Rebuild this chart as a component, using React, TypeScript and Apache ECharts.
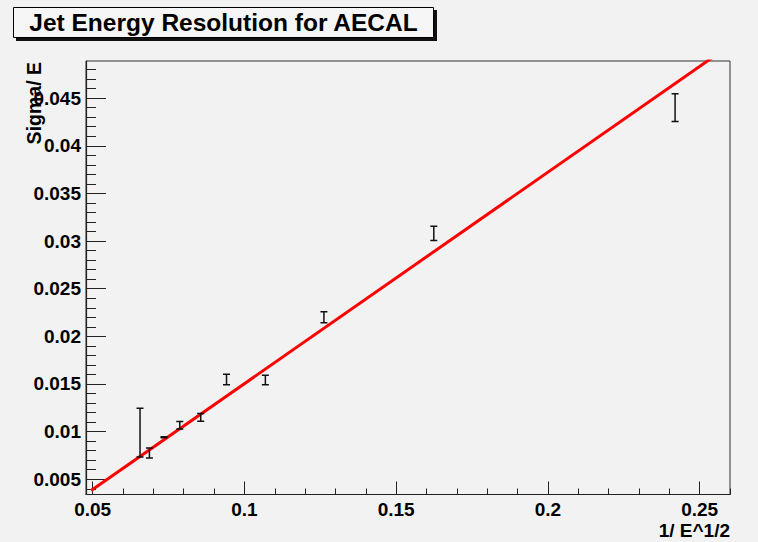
import React, { useEffect, useRef } from "react";
import * as echarts from "echarts";

// Measured points: 1/sqrt(E) vs sigma/E with their errors
const invSqrtE = [0.0656, 0.0687, 0.0735, 0.0787, 0.0856, 0.0941, 0.1069, 0.1262, 0.1624, 0.2419];
const sigmaOverE = [0.0099, 0.00776, 0.0094, 0.01067, 0.0115, 0.01547, 0.01542, 0.022, 0.0308, 0.044];
const sigmaErr = [0.00256, 0.00052, 0.00005, 0.0004, 0.0004, 0.00056, 0.0005, 0.00058, 0.00075, 0.00145];

// Straight-line fit, given by its two end points
const fitX = [0.0495, 0.26];
const fitY = [0.00382, 0.05055];

// Axis ranges and ticks
const xRange = [0.0478, 0.26];
const yRange = [0.0034, 0.0489];
const xMajor = [0.05, 0.1, 0.15, 0.2, 0.25];
const xMinor = [0.06, 0.07, 0.08, 0.09, 0.11, 0.12, 0.13, 0.14, 0.16, 0.17, 0.18, 0.19, 0.21, 0.22, 0.23, 0.24, 0.26];
const yMajor = [0.005, 0.01, 0.015, 0.02, 0.025, 0.03, 0.035, 0.04, 0.045];
const yMinor = [
  0.004, 0.006, 0.007, 0.008, 0.009, 0.011, 0.012, 0.013, 0.014, 0.016, 0.017, 0.018, 0.019,
  0.021, 0.022, 0.023, 0.024, 0.026, 0.027, 0.028, 0.029, 0.031, 0.032, 0.033, 0.034,
  0.036, 0.037, 0.038, 0.039, 0.041, 0.042, 0.043, 0.044, 0.046, 0.047, 0.048,
];

const BG = "#f2f2f2";
const FONT = "'Liberation Sans', Arial, Helvetica, sans-serif";
const AXIS_COLOR = "#222";

const fmt = (v: number) => String(+Number(v).toFixed(4));

const labelStyle = {
  color: "#000",
  fontWeight: "bold" as const,
  fontSize: 19,
  fontFamily: FONT,
};

export default function App() {
  const ref = useRef<HTMLDivElement>(null);

  useEffect(() => {
    document.body.style.margin = "0";
    const chart = echarts.init(ref.current!, null, { renderer: "svg" });

    const option: any = {
      animation: false,
      backgroundColor: BG,
      title: {
        text: "Jet Energy Resolution for AECAL",
        left: 223.5,
        top: 10,
        textAlign: "center",
        padding: 0,
        textStyle: { color: "#000", fontWeight: "bold", fontSize: 24.5, fontFamily: FONT },
      },
      graphic: [
        {
          type: "rect",
          z: 0,
          shape: { x: 16, y: 10, width: 421, height: 31 },
          style: { fill: "#111" },
        },
        {
          type: "rect",
          z: 1,
          shape: { x: 13.5, y: 7.5, width: 420, height: 30 },
          style: { fill: "#f6f6f6", stroke: "#000", lineWidth: 1 },
        },
        {
          type: "text",
          z: 2,
          x: 34,
          y: 62,
          rotation: Math.PI / 2,
          style: {
            text: "Sigma/ E",
            align: "right",
            verticalAlign: "middle",
            fill: "#000",
            fontWeight: "bold",
            fontSize: 19.5,
            fontFamily: FONT,
          },
        },
        {
          type: "text",
          z: 2,
          x: 730,
          y: 530,
          style: {
            text: "1/ E^1/2",
            align: "right",
            verticalAlign: "middle",
            fill: "#000",
            fontWeight: "bold",
            fontSize: 19,
            fontFamily: FONT,
          },
        },
      ],
      grid: {
        left: 86,
        right: 28,
        top: 61,
        bottom: 47.5,
        show: true,
        borderColor: "#333",
        borderWidth: 1,
        backgroundColor: "transparent",
      },
      xAxis: [
        {
          type: "value",
          min: xRange[0],
          max: xRange[1],
          axisLine: { show: true, lineStyle: { color: AXIS_COLOR, width: 1.2 } },
          axisTick: { show: true, inside: true, length: 13, customValues: xMajor, lineStyle: { color: AXIS_COLOR } },
          axisLabel: { show: true, customValues: xMajor, formatter: fmt, margin: 5, ...labelStyle },
          splitLine: { show: false },
        },
        {
          type: "value",
          min: xRange[0],
          max: xRange[1],
          position: "bottom",
          axisLine: { show: false },
          axisTick: { show: true, inside: true, length: 6, customValues: xMinor, lineStyle: { color: AXIS_COLOR } },
          axisLabel: { show: false },
          splitLine: { show: false },
        },
      ],
      yAxis: [
        {
          type: "value",
          min: yRange[0],
          max: yRange[1],
          axisLine: { show: true, lineStyle: { color: AXIS_COLOR, width: 1.2 } },
          axisTick: { show: true, inside: true, length: 20, customValues: yMajor, lineStyle: { color: AXIS_COLOR } },
          axisLabel: { show: true, customValues: yMajor, formatter: fmt, margin: 5, ...labelStyle },
          splitLine: { show: false },
        },
        {
          type: "value",
          min: yRange[0],
          max: yRange[1],
          position: "left",
          axisLine: { show: false },
          axisTick: { show: true, inside: true, length: 10, customValues: yMinor, lineStyle: { color: AXIS_COLOR } },
          axisLabel: { show: false },
          splitLine: { show: false },
        },
      ],
      series: [
        {
          type: "line",
          name: "fit",
          data: fitX.map((x, i) => [x, fitY[i]]),
          symbol: "none",
          showSymbol: false,
          clip: true,
          lineStyle: { color: "#ff0000", width: 3 },
          z: 3,
        },
        {
          type: "custom",
          name: "sigma/E",
          clip: true,
          z: 4,
          data: invSqrtE.map((x, i) => [x, sigmaOverE[i], sigmaErr[i]]),
          encode: { x: 0, y: 1 },
          renderItem: (params: any, api: any) => {
            const x = api.value(0);
            const y = api.value(1);
            const e = api.value(2);
            const lo = api.coord([x, y - e]);
            const hi = api.coord([x, y + e]);
            const hw = 3.5;
            const st = { stroke: "#111", lineWidth: 1.5 };
            return {
              type: "group",
              children: [
                { type: "line", shape: { x1: lo[0], y1: lo[1], x2: hi[0], y2: hi[1] }, style: st },
                { type: "line", shape: { x1: lo[0] - hw, y1: lo[1], x2: lo[0] + hw, y2: lo[1] }, style: st },
                { type: "line", shape: { x1: hi[0] - hw, y1: hi[1], x2: hi[0] + hw, y2: hi[1] }, style: st },
              ],
            };
          },
        },
      ],
    };

    chart.setOption(option);
    return () => chart.dispose();
  }, []);

  return <div ref={ref} style={{ width: 758, height: 542, background: BG }} />;
}
